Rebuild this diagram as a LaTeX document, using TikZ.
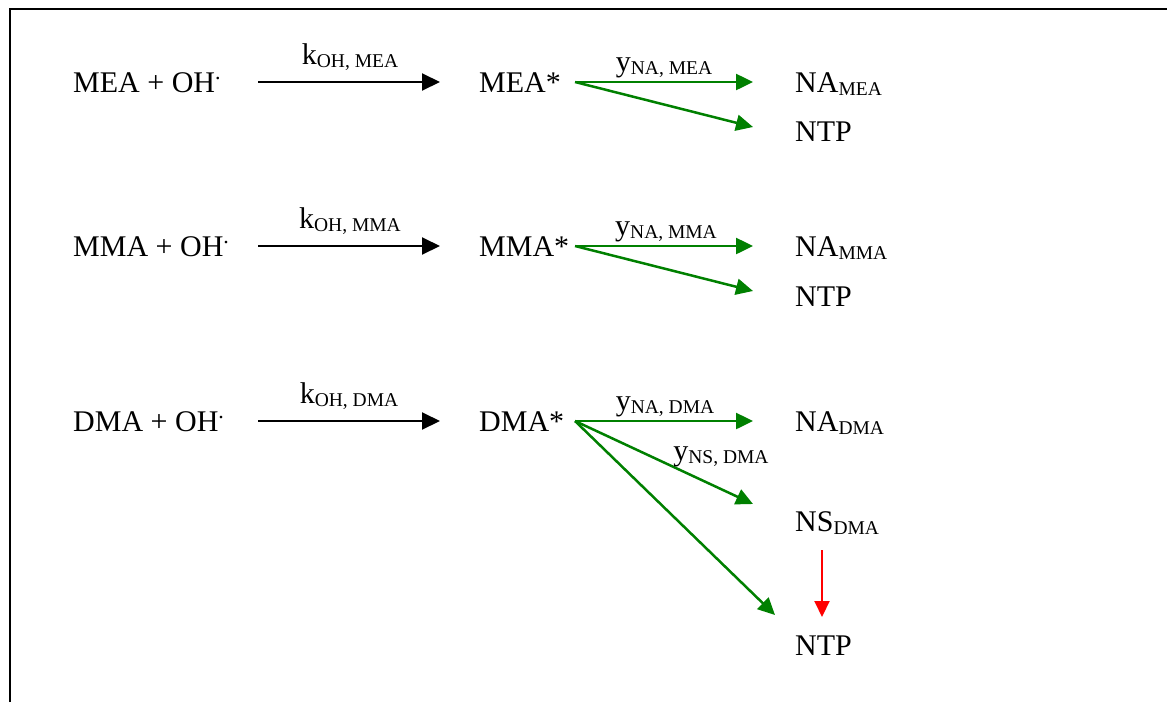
\documentclass[tikz,border=0pt]{standalone}
\usepackage{fontspec}
\setmainfont{Liberation Serif}
\usetikzlibrary{arrows.meta}
\definecolor{rgreen}{RGB}{0,128,0}
\definecolor{rred}{RGB}{255,0,0}
\newcommand{\sbx}[1]{\raisebox{-3.5pt}{\fontsize{19.5}{20}\selectfont #1}}
\newcommand{\rdot}{{\fontsize{22}{22}\selectfont\raisebox{13pt}{.}}}
\begin{document}
\begin{tikzpicture}[x=1pt,y=-1pt,
  txt/.style={font=\fontsize{30}{36}\selectfont, anchor=base west, inner sep=0pt},
  lbl/.style={font=\fontsize{30}{36}\selectfont, anchor=base, inner sep=0pt},
  blk/.style={line width=2pt, -{Triangle[length=18pt,width=17pt]}},
  grn/.style={rgreen, line width=2.5pt, -{Triangle[length=17pt,width=16pt]}},
  rdd/.style={rred, line width=2pt, -{Triangle[length=16pt,width=15pt]}},
  frame/.style={line width=2pt}]
\useasboundingbox (0,0) rectangle (1167,702);
\draw[frame] (10,702) -- (10,9) -- (1167,9);
% row 1
\node[txt] (r1) at (73,92) {MEA + OH\rdot};
\coordinate (b1s) at (258,82); \coordinate (b1e) at (440,82);
\draw[blk] (b1s) -- (b1e);
\node[lbl] (k1) at (350,64) {k\sbx{OH, MEA}};
\node[txt] (s1) at (479,92) {MEA*};
\coordinate (g1) at (575,82);
\coordinate (g1a) at (753,82); \coordinate (g1b) at (753,127);
\draw[grn] (g1) -- (g1a); \draw[grn] (g1) -- (g1b);
\node[lbl] (y1) at (664,71) {y\sbx{NA, MEA}};
\node[txt] (p1a) at (795,92) {NA\sbx{MEA}};
\node[txt] (p1b) at (795,141) {NTP};
% row 2
\node[txt] (r2) at (73,256) {MMA + OH\rdot};
\coordinate (b2s) at (258,246); \coordinate (b2e) at (440,246);
\draw[blk] (b2s) -- (b2e);
\node[lbl] (k2) at (350,228) {k\sbx{OH, MMA}};
\node[txt] (s2) at (479,256) {MMA*};
\coordinate (g2) at (575,246);
\coordinate (g2a) at (753,246); \coordinate (g2b) at (753,291);
\draw[grn] (g2) -- (g2a); \draw[grn] (g2) -- (g2b);
\node[lbl] (y2) at (666,235) {y\sbx{NA, MMA}};
\node[txt] (p2a) at (795,256) {NA\sbx{MMA}};
\node[txt] (p2b) at (795,306) {NTP};
% row 3
\node[txt] (r3) at (73,431) {DMA + OH\rdot};
\coordinate (b3s) at (258,421); \coordinate (b3e) at (440,421);
\draw[blk] (b3s) -- (b3e);
\node[lbl] (k3) at (349,403) {k\sbx{OH, DMA}};
\node[txt] (s3) at (479,431) {DMA*};
\coordinate (g3) at (575,421);
\coordinate (g3a) at (753,421); \coordinate (g3b) at (753,504); \coordinate (g3c) at (775,615);
\draw[grn] (g3) -- (g3a); \draw[grn] (g3) -- (g3b); \draw[grn] (g3) -- (g3c);
\node[lbl] (y3) at (665,410) {y\sbx{NA, DMA}};
\node[lbl] (y4) at (721,460) {y\sbx{NS, DMA}};
\node[txt] (p3a) at (795,431) {NA\sbx{DMA}};
\node[txt] (p3b) at (795,531) {NS\sbx{DMA}};
\node[txt] (p3c) at (795,655) {NTP};
\coordinate (rs) at (822,550); \coordinate (re) at (822,617);
\draw[rdd] (rs) -- (re);
\end{tikzpicture}
\end{document}
